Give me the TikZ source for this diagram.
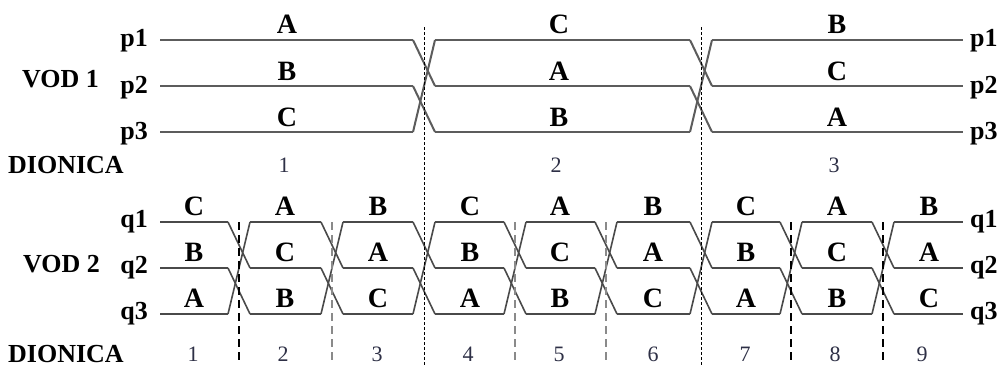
\documentclass[tikz,border=0pt]{standalone}
\usepackage{fontspec}
\setmainfont{Liberation Serif}
\definecolor{sigtop}{HTML}{5C5C5C}
\definecolor{sigbot}{HTML}{4A4A4A}
\definecolor{numcol}{HTML}{2E3046}
\definecolor{gdashcol}{HTML}{8A8A8A}
\tikzset{
  sigA/.style={draw=sigtop, line width=2.0pt, line join=round},
  sigB/.style={draw=sigbot, line width=1.6pt, line join=round},
  longdot/.style={draw=black, line width=1.0pt, dash pattern=on 3pt off 2pt},
  bdash/.style={draw=black, line width=1.1pt, dash pattern=on 8pt off 5pt},
  gdash/.style={draw=gdashcol, line width=1.4pt, dash pattern=on 8pt off 5pt},
  lbl/.style={font=\bfseries\fontsize{26}{26}\selectfont, inner sep=0pt},
  let/.style={font=\bfseries\fontsize{28}{28}\selectfont, inner sep=0pt, anchor=base},
  num/.style={font=\fontsize{22}{22}\selectfont, text=numcol, inner sep=0pt, anchor=base}
}
\begin{document}
\begin{tikzpicture}[x=1pt,y=-1pt]
\useasboundingbox (0,0) rectangle (1004,370);
% ---------- VOD 1 ----------
\foreach \a/\b in {160/413,435/690,712/963}
  \foreach \y in {40,86,132}
    \draw[sigA] (\a,\y) -- (\b,\y);
\foreach \c in {424,701}{
  \draw[sigA] (\c-11,40) -- (\c+11,86);
  \draw[sigA] (\c-11,86) -- (\c+11,132);
  \draw[sigA] (\c-11,132) -- (\c+11,40);
}
% ---------- VOD 2 ----------
\foreach \a/\b in {160/228,250/321,343/413,435/504,526/595,617/690,712/780,802/872,894/963}
  \foreach \y in {222,268,314}
    \draw[sigB] (\a,\y) -- (\b,\y);
\foreach \c in {239,332,424,515,606,701,791,883}{
  \draw[sigB] (\c-11,222) -- (\c+11,268);
  \draw[sigB] (\c-11,268) -- (\c+11,314);
  \draw[sigB] (\c-11,314) -- (\c+11,222);
}
% ---------- separators ----------
\coordinate (t1) at (424,27); \coordinate (b1) at (424,365);
\coordinate (t2) at (701,27); \coordinate (b2) at (701,365);
\draw[longdot] (t1) -- (b1);
\draw[longdot] (t2) -- (b2);
\foreach \x in {239,791,883}
  \draw[bdash] (\x,222) -- (\x,363);
\foreach \x in {332,515,606}
  \draw[gdash] (\x,222) -- (\x,363);
% ---------- labels VOD 1 ----------
\node[lbl, anchor=base west] (vod1) at (22,87) {VOD 1};
\node[lbl, anchor=base west] (dion1) at (8,173) {DIONICA};
\node[lbl, anchor=base east] (p1l) at (148,46) {p1};
\node[lbl, anchor=base east] (p2l) at (148,93) {p2};
\node[lbl, anchor=base east] (p3l) at (148,139) {p3};
\node[lbl, anchor=base west] (p1r) at (970,46) {p1};
\node[lbl, anchor=base west] (p2r) at (970,93) {p2};
\node[lbl, anchor=base west] (p3r) at (970,139) {p3};
\foreach \x/\u/\v/\w/\n [count=\i] in {287/A/B/C/1,559/C/A/B/2,837/B/C/A/3}{
  \node[let] (ta\i) at (\x,33) {\u};
  \node[let] (tb\i) at (\x,80) {\v};
  \node[let] (tc\i) at (\x,126) {\w};
  \node[num] (tn\i) at (\x-3,172) {\n};
}
% ---------- labels VOD 2 ----------
\node[lbl, anchor=base west] (vod2) at (23,272) {VOD 2};
\node[lbl, anchor=base west] (dion2) at (8,362) {DIONICA};
\node[lbl, anchor=base east] (q1l) at (148,227) {q1};
\node[lbl, anchor=base east] (q2l) at (148,273) {q2};
\node[lbl, anchor=base east] (q3l) at (148,319) {q3};
\node[lbl, anchor=base west] (q1r) at (970,227) {q1};
\node[lbl, anchor=base west] (q2r) at (970,273) {q2};
\node[lbl, anchor=base west] (q3r) at (970,319) {q3};
\foreach \x/\u/\v/\w/\nx [count=\i] in {194/C/B/A/193,285/A/C/B/283,378/B/A/C/377,470/C/B/A/468,560/A/C/B/559,653/B/A/C/653,746/C/B/A/745,837/A/C/B/835,929/B/A/C/922}{
  \node[let] (ba\i) at (\x,215) {\u};
  \node[let] (bb\i) at (\x,261) {\v};
  \node[let] (bc\i) at (\x,307) {\w};
  \node[num] (bn\i) at (\nx,361) {\i};
}
\end{tikzpicture}
\end{document}
